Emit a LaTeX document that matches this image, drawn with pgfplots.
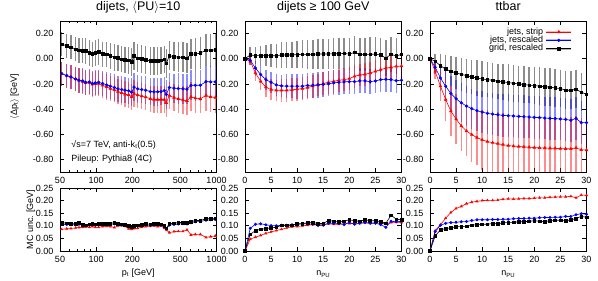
\documentclass[border=0pt]{standalone}
\usepackage{fontspec}
\setmainfont{Liberation Sans}
\usepackage{pgfplots}
\usepackage{pgfplotstable}
\pgfplotsset{compat=1.18}

\pgfplotstableread{
x ky ke by be ry re
51.6 0.116 0.095 -0.118 0.095 -0.118 0.095
56.8 0.103 0.095 -0.134 0.095 -0.134 0.095
61.7 0.092 0.095 -0.145 0.095 -0.145 0.095
67.5 0.076 0.095 -0.161 0.095 -0.161 0.095
71.9 0.066 0.1 -0.171 0.1 -0.171 0.1
77.2 0.063 0.1 -0.176 0.1 -0.182 0.1
81.7 0.061 0.1 -0.187 0.1 -0.192 0.1
87.7 0.045 0.1 -0.184 0.1 -0.189 0.1
92.8 0.037 0.1 -0.197 0.1 -0.203 0.1
98.3 0.045 0.1 -0.192 0.1 -0.200 0.1
104.8 0.053 0.1 -0.187 0.1 -0.197 0.1
113.1 0.037 0.1 -0.197 0.1 -0.211 0.1
122.2 0.034 0.1 -0.208 0.1 -0.224 0.1
131.0 0.024 0.105 -0.218 0.105 -0.237 0.1
141.5 0.011 0.105 -0.229 0.105 -0.247 0.1
151.7 0.008 0.105 -0.239 0.105 -0.261 0.1
162.8 -0.003 0.105 -0.245 0.105 -0.271 0.1
173.5 -0.008 0.105 -0.250 0.105 -0.282 0.105
186.1 -0.013 0.105 -0.255 0.105 -0.287 0.105
197.1 -0.026 0.11 -0.266 0.11 -0.303 0.105
206.1 0.024 0.11 -0.226 0.11 -0.276 0.105
221.1 0.005 0.11 -0.239 0.11 -0.289 0.105
238.7 0.000 0.11 -0.245 0.11 -0.297 0.105
257.6 -0.008 0.11 -0.250 0.11 -0.305 0.105
281.8 -0.018 0.11 -0.261 0.11 -0.318 0.105
302.2 -0.018 0.11 -0.263 0.11 -0.324 0.105
324.2 -0.016 0.11 -0.263 0.11 -0.324 0.105
345.6 -0.013 0.11 -0.261 0.11 -0.324 0.11
368.4 -0.005 0.11 -0.253 0.11 -0.324 0.11
382.7 -0.037 0.115 -0.284 0.115 -0.350 0.11
405.4 0.024 0.115 -0.229 0.115 -0.292 0.11
443.3 0.016 0.115 -0.234 0.115 -0.308 0.11
481.5 0.013 0.12 -0.237 0.12 -0.318 0.11
526.5 0.011 0.12 -0.239 0.12 -0.329 0.11
568.4 0.005 0.12 -0.242 0.12 -0.334 0.115
613.7 0.037 0.12 -0.211 0.12 -0.303 0.115
666.6 0.037 0.125 -0.211 0.125 -0.313 0.115
733.7 0.045 0.125 -0.211 0.125 -0.318 0.115
817.7 0.068 0.125 -0.182 0.125 -0.292 0.12
894.0 0.068 0.13 -0.184 0.13 -0.303 0.12
977.6 0.071 0.13 -0.184 0.13 -0.308 0.12
}\topL

\pgfplotstableread{
x k b r
51.6 0.113 0.106 0.086
56.8 0.110 0.105 0.088
61.7 0.109 0.104 0.089
67.5 0.108 0.104 0.092
71.9 0.113 0.106 0.093
77.2 0.104 0.101 0.094
81.7 0.102 0.100 0.096
87.7 0.106 0.103 0.094
92.8 0.108 0.104 0.097
98.3 0.106 0.103 0.094
104.8 0.108 0.104 0.094
113.1 0.108 0.104 0.097
122.2 0.109 0.105 0.098
131.0 0.109 0.105 0.097
141.5 0.113 0.108 0.093
151.7 0.109 0.105 0.100
162.8 0.106 0.103 0.101
173.5 0.105 0.101 0.098
186.1 0.100 0.096 0.088
197.1 0.097 0.094 0.086
206.1 0.101 0.098 0.089
221.1 0.102 0.099 0.090
238.7 0.105 0.101 0.094
257.6 0.108 0.104 0.097
281.8 0.106 0.102 0.098
302.2 0.108 0.104 0.100
324.2 0.108 0.104 0.097
345.6 0.106 0.102 0.100
368.4 0.100 0.097 0.090
382.7 0.090 0.088 0.084
405.4 0.108 0.103 0.073
443.3 0.110 0.105 0.077
481.5 0.113 0.107 0.078
526.5 0.113 0.108 0.078
568.4 0.112 0.107 0.084
613.7 0.117 0.112 0.064
666.6 0.121 0.116 0.066
733.7 0.121 0.117 0.066
817.7 0.128 0.122 0.054
894.0 0.129 0.124 0.057
977.6 0.130 0.125 0.060
}\botL

\pgfplotstableread{
x ky ke by be ry re
0 0 0 0 0 0 0
1 0.030 0.06 -0.013 0.04 -0.020 0.03
2 0.025 0.07 -0.074 0.06 -0.113 0.06
3 0.025 0.08 -0.126 0.07 -0.179 0.07
4 0.025 0.085 -0.166 0.08 -0.226 0.08
5 0.024 0.09 -0.187 0.085 -0.245 0.085
6 0.024 0.095 -0.208 0.09 -0.250 0.085
7 0.030 0.10 -0.216 0.09 -0.250 0.09
8 0.030 0.10 -0.218 0.095 -0.250 0.09
9 0.030 0.105 -0.218 0.095 -0.247 0.09
10 0.033 0.11 -0.218 0.10 -0.242 0.09
11 0.035 0.11 -0.218 0.10 -0.237 0.09
12 0.035 0.115 -0.213 0.10 -0.229 0.09
13 0.035 0.115 -0.210 0.10 -0.218 0.09
14 0.038 0.12 -0.208 0.10 -0.208 0.09
15 0.038 0.12 -0.203 0.10 -0.197 0.09
16 0.038 0.12 -0.200 0.10 -0.187 0.09
17 0.040 0.125 -0.192 0.10 -0.179 0.09
18 0.040 0.125 -0.187 0.10 -0.171 0.09
19 0.042 0.125 -0.184 0.10 -0.166 0.09
20 0.037 0.13 -0.182 0.10 -0.158 0.09
21 0.050 0.13 -0.182 0.10 -0.139 0.09
22 0.035 0.13 -0.176 0.10 -0.129 0.09
23 0.035 0.13 -0.176 0.10 -0.124 0.09
24 0.035 0.135 -0.182 0.10 -0.113 0.09
25 0.037 0.135 -0.176 0.10 -0.100 0.09
26 0.030 0.135 -0.166 0.10 -0.087 0.09
27 0.005 0.14 -0.163 0.10 -0.074 0.09
28 0.035 0.14 -0.166 0.10 -0.068 0.09
29 0.022 0.14 -0.174 0.10 -0.061 0.09
30 0.035 0.14 -0.171 0.10 -0.058 0.09
}\topM

\pgfplotstableread{
x k b r
0 0 0 0
1 0.066 0.090 0.047
2 0.081 0.106 0.055
3 0.086 0.108 0.062
4 0.089 0.104 0.070
5 0.092 0.101 0.076
6 0.094 0.100 0.081
7 0.102 0.102 0.086
8 0.102 0.102 0.092
9 0.102 0.104 0.096
10 0.108 0.105 0.097
11 0.109 0.108 0.100
12 0.112 0.108 0.102
13 0.113 0.106 0.105
14 0.109 0.101 0.105
15 0.109 0.102 0.106
16 0.121 0.110 0.108
17 0.118 0.110 0.106
18 0.117 0.109 0.106
19 0.118 0.105 0.108
20 0.124 0.113 0.109
21 0.120 0.106 0.109
22 0.118 0.110 0.110
23 0.124 0.113 0.112
24 0.120 0.110 0.110
25 0.120 0.110 0.112
26 0.117 0.105 0.110
27 0.110 0.094 0.108
28 0.142 0.118 0.113
29 0.126 0.116 0.114
30 0.124 0.118 0.113
}\botM

\pgfplotstableread{
x ky ke by be ry re
0 0 0 0 0 0 0
1 -0.021 0.06 -0.068 0.05 -0.100 0.06
2 -0.055 0.09 -0.153 0.10 -0.218 0.12
3 -0.082 0.11 -0.218 0.12 -0.324 0.17
4 -0.100 0.12 -0.276 0.14 -0.416 0.20
5 -0.113 0.13 -0.318 0.15 -0.480 0.20
6 -0.124 0.13 -0.350 0.155 -0.534 0.20
7 -0.134 0.135 -0.376 0.16 -0.574 0.20
8 -0.145 0.135 -0.397 0.16 -0.603 0.22
9 -0.153 0.14 -0.413 0.16 -0.626 0.22
10 -0.161 0.14 -0.424 0.165 -0.645 0.24
11 -0.166 0.14 -0.434 0.165 -0.658 0.25
12 -0.171 0.14 -0.440 0.165 -0.667 0.25
13 -0.179 0.14 -0.445 0.165 -0.675 0.25
14 -0.184 0.14 -0.450 0.17 -0.683 0.25
15 -0.189 0.145 -0.453 0.17 -0.690 0.25
16 -0.195 0.145 -0.455 0.17 -0.694 0.25
17 -0.200 0.145 -0.458 0.17 -0.697 0.25
18 -0.205 0.145 -0.461 0.17 -0.700 0.25
19 -0.210 0.145 -0.463 0.17 -0.703 0.25
20 -0.213 0.15 -0.466 0.17 -0.706 0.25
21 -0.218 0.15 -0.468 0.17 -0.708 0.25
22 -0.222 0.15 -0.471 0.17 -0.709 0.25
23 -0.226 0.15 -0.474 0.17 -0.711 0.25
24 -0.232 0.15 -0.476 0.17 -0.712 0.25
25 -0.237 0.15 -0.479 0.17 -0.714 0.25
26 -0.250 0.15 -0.482 0.17 -0.715 0.25
27 -0.250 0.15 -0.489 0.17 -0.716 0.25
28 -0.243 0.15 -0.474 0.17 -0.708 0.25
29 -0.266 0.15 -0.508 0.17 -0.724 0.25
30 -0.282 0.15 -0.508 0.17 -0.725 0.25
}\topR

\pgfplotstableread{
x k b r
0 0 0 0
1 0.060 0.077 0.081
2 0.084 0.102 0.104
3 0.089 0.110 0.130
4 0.092 0.113 0.153
5 0.096 0.114 0.169
6 0.097 0.116 0.177
7 0.098 0.117 0.188
8 0.102 0.121 0.194
9 0.105 0.124 0.197
10 0.106 0.124 0.200
11 0.106 0.124 0.201
12 0.109 0.125 0.201
13 0.108 0.125 0.202
14 0.112 0.126 0.205
15 0.113 0.126 0.207
16 0.114 0.128 0.206
17 0.116 0.129 0.207
18 0.116 0.129 0.208
19 0.118 0.130 0.208
20 0.120 0.130 0.210
21 0.118 0.132 0.211
22 0.116 0.133 0.211
23 0.121 0.133 0.213
24 0.122 0.134 0.214
25 0.122 0.134 0.215
26 0.121 0.137 0.215
27 0.123 0.137 0.217
28 0.129 0.144 0.211
29 0.137 0.148 0.222
30 0.134 0.146 0.221
}\botR

\pgfplotsset{
  base/.style={
    scale only axis, width=156.5pt,
    axis line style={line width=0.7pt},
    tick align=inside, xtick pos=both, ytick pos=both,
    xticklabel pos=lower, yticklabel pos=left,
    major tick length=4pt, minor tick length=2pt,
    every tick/.style={black, line width=0.6pt},
    tick label style={font=\fontsize{9}{10}\selectfont},
    label style={font=\fontsize{9}{10}\selectfont},
    xticklabel style={yshift=-2pt},
    yticklabel style={xshift=-3pt},
    xlabel style={at={(axis description cs:0.5,0)}, anchor=base, yshift=-25pt},
  },
  toppanel/.style={base, height=151pt, ymin=-0.9, ymax=0.3,
    ytick={-0.8,-0.6,-0.4,-0.2,0,0.2},
    yticklabels={-0.80,-0.60,-0.40,-0.20,0.00,0.20},
    title style={font=\fontsize{12.5}{14}\selectfont, at={(axis description cs:0.5,1)}, anchor=base, yshift=4.5pt}},
  botpanel/.style={base, height=63pt, ymin=0, ymax=0.25,
    ytick={0,0.05,0.1,0.15,0.2,0.25},
    yticklabels={0.00,0.05,0.10,0.15,0.20,0.25}},
  ptticks/.style={xmin=50, xmax=1000,
    xtick={50,100,200,500,1000}, xticklabels={50,100,200,500,1000},
    minor xtick={60,70,80,90,300,400,600,700,800,900}},
  npux/.style={xmin=0, xmax=30, xtick={0,5,10,15,20,25,30}, xticklabels={0,5,10,15,20,25,30}},
  rl/.style={red, line width=0.6pt, mark=triangle*, mark size=1.5pt},
  bl/.style={blue, line width=0.6pt, mark=*, mark size=1.3pt},
  kl/.style={black, line width=0.6pt, mark=square*, mark size=1.3pt},
  eb/.style={draw=none, mark=none, forget plot, error bars/.cd, y dir=both, y explicit, error mark=none,
    error bar style={draw=#1, line width=1.5pt, opacity=0.45}},
}

\begin{document}
\begin{tikzpicture}
\useasboundingbox (0,0) rectangle (598pt,281pt);

% ---------- left top ----------
\begin{axis}[xmode=log, toppanel, ptticks, at={(60pt,109pt)}, anchor=south west,
  title={dijets, \ensuremath{\langle}PU\ensuremath{\rangle}=10},
  ylabel={\ensuremath{\langle}Δp\textsubscript{t}\ensuremath{\rangle} [GeV]},
  ylabel style={at={(axis description cs:-0.275,0.5)}, anchor=base}]
\addplot[eb=black] table[x=x,y=ky,y error=ke]{\topL};
\addplot[eb=blue] table[x=x,y=by,y error=be]{\topL};
\addplot[eb=red] table[x=x,y=ry,y error=re]{\topL};
\addplot[rl] table[x=x,y=ry]{\topL};
\addplot[bl] table[x=x,y=by]{\topL};
\addplot[kl] table[x=x,y=ky]{\topL};
\node[anchor=west, font=\fontsize{9}{10}\selectfont] at (rel axis cs:0.05,0.18) {√s=7 TeV, anti-k\textsubscript{t}(0.5)};
\node[anchor=west, font=\fontsize{9}{10}\selectfont] at (rel axis cs:0.05,0.085) {Pileup: Pythia8 (4C)};
\end{axis}

% ---------- left bottom ----------
\begin{axis}[xmode=log, botpanel, ptticks, at={(60pt,30pt)}, anchor=south west,
  xlabel={p\textsubscript{t} [GeV]},
  ylabel={MC unc. [GeV]},
  ylabel style={at={(axis description cs:-0.172,0.5)}, anchor=base}]
\addplot[rl, mark size=1.2pt] table[x=x,y=r]{\botL};
\addplot[bl, mark size=1.2pt] table[x=x,y=b]{\botL};
\addplot[kl, mark size=1.4pt] table[x=x,y=k]{\botL};
\end{axis}

% ---------- middle top ----------
\begin{axis}[toppanel, npux, at={(245pt,109pt)}, anchor=south west,
  title={dijets ≥ 100 GeV}]
\addplot[eb=black] table[x=x,y=ky,y error=ke]{\topM};
\addplot[eb=blue] table[x=x,y=by,y error=be]{\topM};
\addplot[eb=red] table[x=x,y=ry,y error=re]{\topM};
\addplot[rl] table[x=x,y=ry]{\topM};
\addplot[bl] table[x=x,y=by]{\topM};
\addplot[kl] table[x=x,y=ky]{\topM};
\end{axis}

% ---------- middle bottom ----------
\begin{axis}[botpanel, npux, at={(245pt,30pt)}, anchor=south west,
  xlabel={n\textsubscript{PU}}]
\addplot[rl, mark size=1.2pt] table[x=x,y=r]{\botM};
\addplot[bl, mark size=1.2pt] table[x=x,y=b]{\botM};
\addplot[kl, mark size=1.4pt] table[x=x,y=k]{\botM};
\end{axis}

% ---------- right top ----------
\begin{axis}[toppanel, npux, at={(430pt,109pt)}, anchor=south west,
  title={ttbar},
  legend style={draw=none, fill=none, at={(axis description cs:0.91,0.955)}, anchor=north east,
    inner sep=0pt, outer sep=0pt, font=\fontsize{9}{10}\selectfont, row sep=0pt,
    nodes={inner xsep=2pt, inner ysep=0pt, text height=6.4pt, text depth=2pt}},
  legend cell align=right, legend plot pos=right,
  legend image code/.code={
    \draw[#1, mark=none, line width=2.2pt, opacity=0.3] (0pt,0pt) -- (25pt,0pt);
    \draw[mark repeat=2, mark phase=2, #1] plot coordinates {(0pt,0pt) (12.5pt,0pt) (25pt,0pt)};}]
\addplot[eb=black] table[x=x,y=ky,y error=ke]{\topR};
\addplot[eb=blue] table[x=x,y=by,y error=be]{\topR};
\addplot[eb=red] table[x=x,y=ry,y error=re]{\topR};
\addplot[rl] table[x=x,y=ry]{\topR};
\addlegendentry{jets, strip}
\addplot[bl] table[x=x,y=by]{\topR};
\addlegendentry{jets, rescaled}
\addplot[kl] table[x=x,y=ky]{\topR};
\addlegendentry{grid, rescaled}
\end{axis}

% ---------- right bottom ----------
\begin{axis}[botpanel, npux, at={(430pt,30pt)}, anchor=south west,
  xlabel={n\textsubscript{PU}}]
\addplot[rl, mark size=1.2pt] table[x=x,y=r]{\botR};
\addplot[bl, mark size=1.2pt] table[x=x,y=b]{\botR};
\addplot[kl, mark size=1.4pt] table[x=x,y=k]{\botR};
\end{axis}
\end{tikzpicture}
\end{document}
